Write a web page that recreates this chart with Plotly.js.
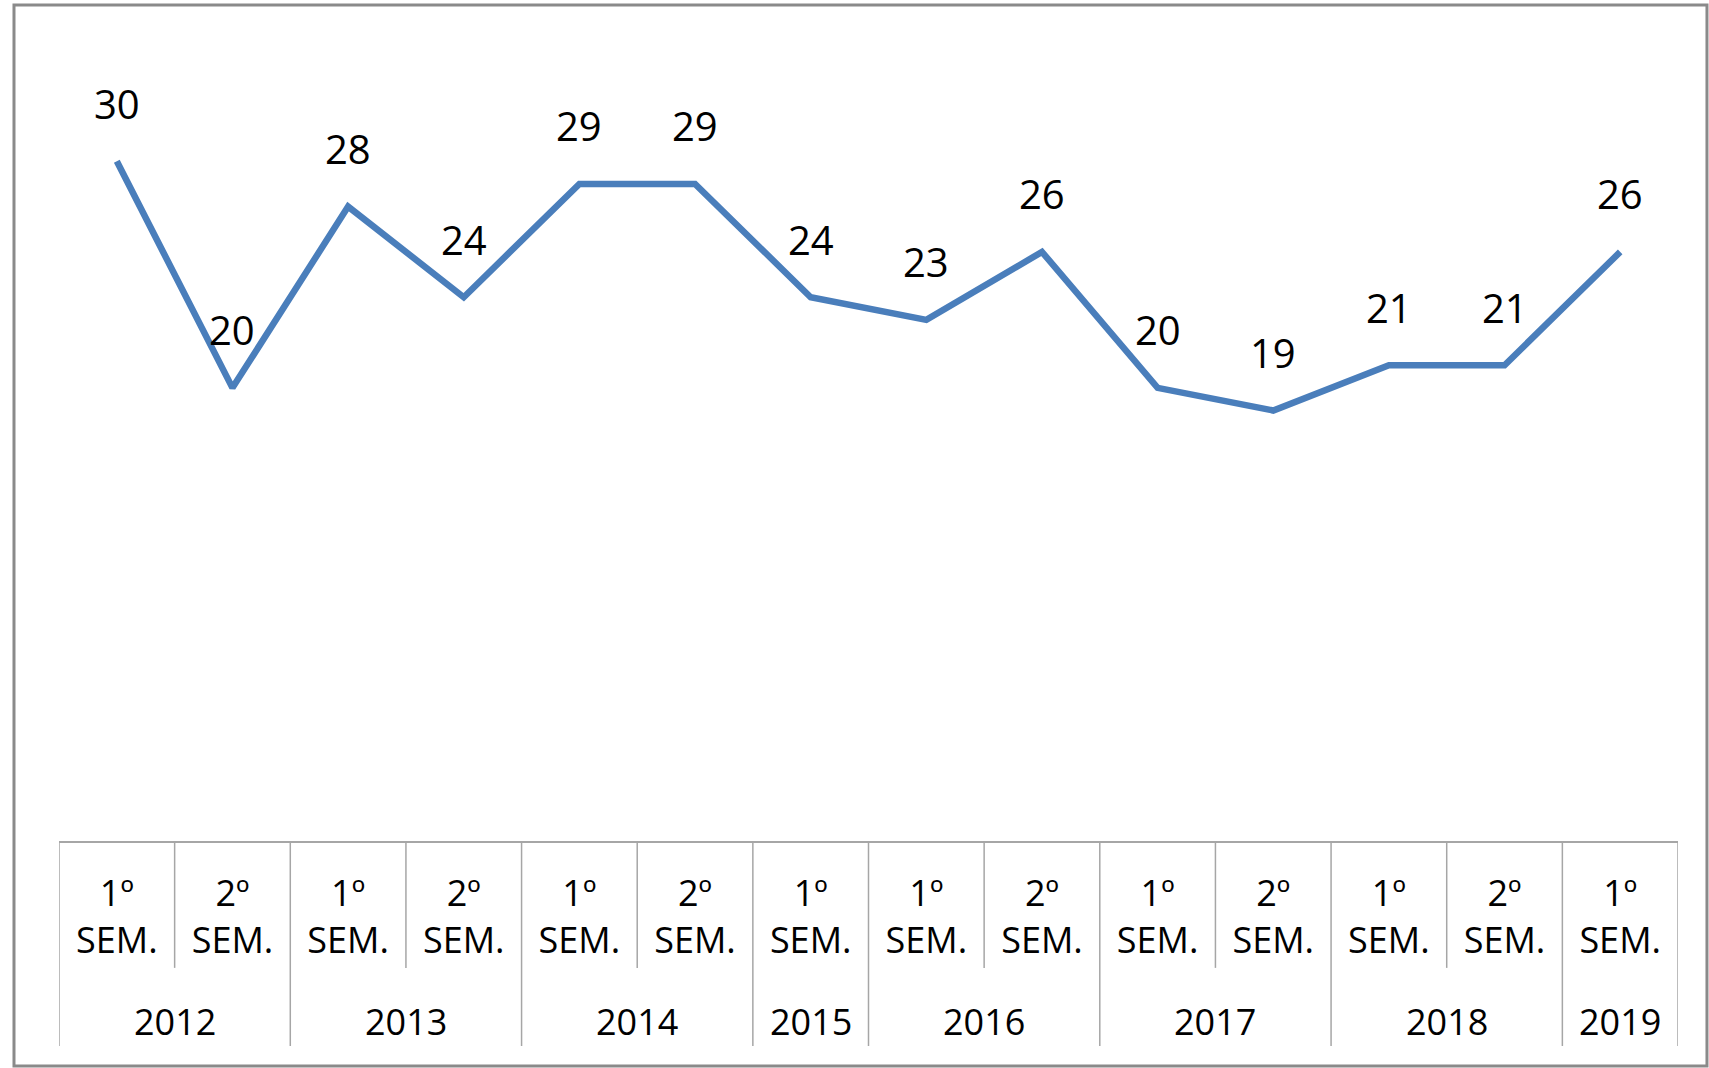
<!DOCTYPE html>
<html>
<head>
<meta charset="utf-8">
<script src="https://cdn.plot.ly/plotly-3.0.1.min.js"></script>
<style>
html,body{margin:0;padding:0;background:#fff;}
#chart{width:1709px;height:1068px;}
</style>
</head>
<body>
<div id="chart"></div>
<script>
// Data
const semesters = ['1º','2º','1º','2º','1º','2º','1º','1º','2º','1º','2º','1º','2º','1º'];
const years = ['2012','2012','2013','2013','2014','2014','2015','2016','2016','2017','2017','2018','2018','2019'];
const values = [30,20,28,24,29,29,24,23,26,20,19,21,21,26];

const idx = values.map((v,i)=>i);
const tickText = semesters.map(s => s + '<br>SEM.');

const FONT = 'Open Sans, Noto Sans, sans-serif';
const GRID = '#a6a6a6';

// Year groups
const groups = [];
years.forEach((y,i)=>{
  if(!groups.length || groups[groups.length-1].year !== y) groups.push({year:y, start:i, end:i});
  else groups[groups.length-1].end = i;
});

const shapes = [];
const annotations = [];
const yearBottom = -0.2585;
const semBottom = -0.160;

groups.forEach(g=>{
  shapes.push({type:'line', xref:'x', yref:'paper', x0:g.start-0.5, x1:g.start-0.5, y0:0, y1:yearBottom, line:{color:GRID, width:1.5}});
  annotations.push({xref:'x', yref:'paper', x:(g.start+g.end)/2, y:-0.227, yanchor:'middle', xanchor:'center', showarrow:false, text:g.year, font:{family:FONT, size:36, color:'#000'}});
});
shapes.push({type:'line', xref:'x', yref:'paper', x0:years.length-0.5, x1:years.length-0.5, y0:0, y1:yearBottom, line:{color:GRID, width:1.5}});
years.forEach((y,i)=>{
  if(i>0 && years[i-1]===y){
    shapes.push({type:'line', xref:'x', yref:'paper', x0:i-0.5, x1:i-0.5, y0:0, y1:semBottom, line:{color:GRID, width:1.5}});
  }
});
// outer frame
shapes.push({type:'rect', xref:'paper', yref:'paper', x0:-0.0278, x1:1.0179, y0:-0.2837, y1:1.0542, line:{color:'#8a8a8a', width:3}, fillcolor:'rgba(0,0,0,0)'});

values.forEach((v,i)=>{
  annotations.push({xref:'x', yref:'y', x:i, y:v, yshift:58, yanchor:'middle', xanchor:'center', showarrow:false, text:String(v), font:{family:FONT, size:40, color:'#000'}});
});

const trace = {
  x: idx, y: values, type:'scatter', mode:'lines',
  line:{color:'#4A7EBB', width:6.5},
  hoverinfo:'skip'
};

const layout = {
  width:1709, height:1068,
  margin:{l:59, r:31, t:48, b:227},
  paper_bgcolor:'#fff', plot_bgcolor:'#fff',
  showlegend:false,
  xaxis:{
    range:[-0.5, values.length-0.5], tickvals:idx, ticktext:tickText,
    showgrid:false, zeroline:false, showline:true, linecolor:GRID, linewidth:1.5,
    ticks:'', ticklabelstandoff:20,
    tickfont:{family:FONT, size:36, color:'#000'}, fixedrange:true
  },
  yaxis:{range:[0,35], visible:false, fixedrange:true},
  shapes:shapes,
  annotations:annotations
};

Plotly.newPlot('chart', [trace], layout, {staticPlot:true, displayModeBar:false});
</script>
</body>
</html>
